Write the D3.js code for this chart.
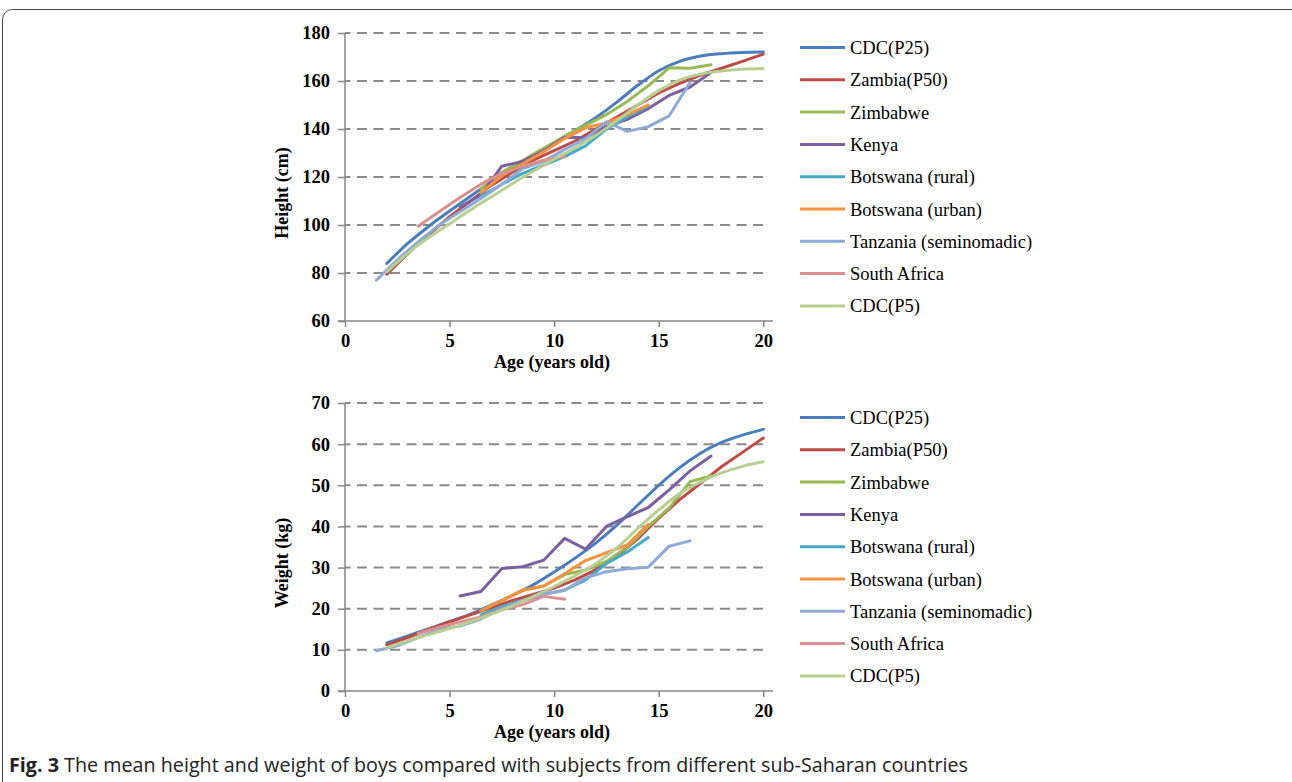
<!DOCTYPE html>
<html>
<head>
<meta charset="utf-8">
<script src="https://cdn.jsdelivr.net/npm/d3@7"></script>
<style>
  body { margin: 0; background: #fff; }
  svg { display: block; }
</style>
</head>
<body>
<div id="chart-area"></div>
<script>
// Series names + colours (Excel default palette)
var seriesNames = ["CDC(P25)", "Zambia(P50)", "Zimbabwe", "Kenya", "Botswana (rural)",
  "Botswana (urban)", "Tanzania (seminomadic)", "South Africa", "CDC(P5)"];
var seriesColors = ["#4a7ebb", "#be4b48", "#98b954", "#7d60a0", "#46aac5",
  "#f69240", "#8eaad5", "#d9908e", "#b9cf92"];

// Ages (x values)
var agesYear = [2, 3, 4, 5, 6, 7, 8, 9, 10, 11, 12, 13, 14, 15, 16, 17, 18, 19, 20];
var agesKenya = [5.5, 6.5, 7.5, 8.5, 9.5, 10.5, 11.5, 12.5, 13.5, 14.5, 15.5, 16.5, 17.5];
var agesZimbabwe = [6.5, 7.5, 8.5, 9.5, 10.5, 11.5, 12.5, 13.5, 14.5, 15.5, 16.5, 17.5];
var agesBotswana = [6.5, 7.5, 8.5, 9.5, 10.5, 11.5, 12.5, 13.5, 14.5];
var agesTanzania = [1.5, 2.5, 3.5, 4.5, 5.5, 6.5, 7.5, 8.5, 9.5, 10.5, 11.5, 12.5, 13.5, 14.5, 15.5, 16.5];
var agesSouthAfrica = [3.5, 4.5, 5.5, 6.5, 7.5, 8.5, 9.5, 10.5];

// Height (cm)
var hCdcP25 = [84, 92.3, 99.4, 105.8, 112, 118, 123.6, 129, 134.2, 139.3, 144.8, 151.2, 158.2, 164.3, 168.2, 170.4, 171.4, 171.9, 172.1];
var hZambia = [79.5, 88, 96, 103.5, 110, 116.5, 122, 127, 131, 135, 140, 145, 150, 155, 159, 162.5, 165.3, 168.2, 171.2];
var hZimbabwe = [115, 122, 127, 132, 137, 141.5, 146, 151.5, 158, 165.5, 165.3, 166.8];
var hKenya = [107.5, 112.5, 124.5, 126.5, 131, 136.5, 136.5, 141, 144, 148.5, 154, 157.5, 163.5];
var hBotswanaRural = [112, 117, 121.5, 125, 128.5, 133, 140, 145, 149.5];
var hBotswanaUrban = [113.5, 120.5, 125.5, 130.5, 136, 140.5, 142.5, 146, 150];
var hTanzania = [77, 85.5, 93, 100, 105.5, 111, 117, 123.5, 126.5, 131.5, 136, 143, 139, 141, 145.5, 159.5];
var hSouthAfrica = [99.5, 105.5, 111.5, 117, 121.5, 124.5, 127, 128.5];
var hCdcP5 = [80.5, 88.2, 94.8, 100.5, 106.3, 111.8, 117.2, 122.4, 127.4, 132.2, 137.4, 143.5, 150, 156, 160.4, 162.9, 164.2, 164.9, 165.2];

// Weight (kg)
var wCdcP25 = [11.7, 13.4, 15.1, 16.9, 18.7, 20.9, 23.2, 25.8, 28.9, 32.3, 36, 40.3, 45.2, 50, 54.3, 57.8, 60.4, 62.2, 63.6];
var wZambia = [11.2, 13, 15, 16.8, 18.5, 20.3, 22, 23.5, 25, 27, 29.5, 32.8, 37, 42, 46.5, 50.5, 54.5, 58, 61.5];
var wZimbabwe = [19.5, 22, 24.5, 25.5, 28.3, 29.4, 31.5, 35, 40, 44.5, 50.9, 52.3];
var wKenya = [23.1, 24.2, 29.8, 30.2, 31.8, 37.1, 34.5, 40, 42.4, 44.6, 48.9, 53.5, 57.1];
var wBotswanaRural = [18.5, 20.5, 22, 23.5, 24.5, 27, 31, 33.8, 37.3];
var wBotswanaUrban = [19.5, 22, 24.5, 25.5, 28.5, 31.7, 33.6, 35.5, 40.5];
var wTanzania = [9.8, 11, 13, 15, 15.8, 17.5, 20, 22, 23.5, 24.5, 27.5, 29, 29.7, 30.1, 35.2, 36.5];
var wSouthAfrica = [14, 15.5, 16.8, 18, 19.8, 21, 23, 22.3];
var wCdcP5 = [10.5, 12.2, 13.7, 15.2, 16.9, 18.7, 20.7, 23, 25.4, 28, 31, 34.8, 39.5, 44, 48, 50.8, 53, 54.6, 55.7];

var agesList = [agesYear, agesYear, agesZimbabwe, agesKenya, agesBotswana, agesBotswana, agesTanzania, agesSouthAfrica, agesYear];
var heightList = [hCdcP25, hZambia, hZimbabwe, hKenya, hBotswanaRural, hBotswanaUrban, hTanzania, hSouthAfrica, hCdcP5];
var weightList = [wCdcP25, wZambia, wZimbabwe, wKenya, wBotswanaRural, wBotswanaUrban, wTanzania, wSouthAfrica, wCdcP5];

var heightTicks = [60, 80, 100, 120, 140, 160, 180];
var weightTicks = [0, 10, 20, 30, 40, 50, 60, 70];
var ageTicks = [0, 5, 10, 15, 20];

var svg = d3.select("#chart-area")
  .append("svg")
    .attr("width", 1292)
    .attr("height", 782);

// frame around the figure
svg.append("rect")
  .attr("x", 2.5).attr("y", 9.5)
  .attr("width", 1300).attr("height", 800)
  .attr("rx", 10)
  .attr("fill", "none")
  .attr("stroke", "#444")
  .attr("stroke-width", 1);

var axisColor = "#868686";
var serif = "'Liberation Serif', 'Times New Roman', serif";

function drawPanel(top, bottom, yDomain, yTicks, yTitle, values) {
  var x = d3.scaleLinear().domain([0, 20]).range([345, 763.3]);
  var y = d3.scaleLinear().domain(yDomain).range([bottom, top]);

  var g = svg.append("g");

  // dashed gridlines
  g.selectAll(".grid")
    .data(yTicks.slice(1))
    .enter().append("line")
      .attr("x1", 345).attr("x2", 768)
      .attr("y1", function(d){ return y(d); })
      .attr("y2", function(d){ return y(d); })
      .attr("stroke", "#8a8a8a")
      .attr("stroke-width", 2)
      .attr("stroke-dasharray", "10,6.5")
      .attr("stroke-dashoffset", -12);

  // y axis
  var yAxis = g.append("g")
    .attr("transform", "translate(345,0)")
    .call(d3.axisLeft(y).tickValues(yTicks).tickSize(7).tickSizeOuter(0).tickPadding(8));
  // x axis
  var xAxis = g.append("g")
    .attr("transform", "translate(0," + bottom + ")")
    .call(d3.axisBottom(x).tickValues(ageTicks).tickSize(6).tickSizeOuter(0).tickPadding(7));

  [yAxis, xAxis].forEach(function(a){
    a.select(".domain").remove();
    a.selectAll("line").attr("stroke", axisColor).attr("stroke-width", 1.5);
    a.selectAll("text")
      .attr("fill", "#000")
      .style("font-family", serif)
      .style("font-weight", "bold")
      .style("font-size", "18.5px");
  });
  g.append("line")
    .attr("x1", 345).attr("x2", 345)
    .attr("y1", top).attr("y2", bottom)
    .attr("stroke", axisColor).attr("stroke-width", 1.5);
  g.append("line")
    .attr("x1", 338).attr("x2", 773)
    .attr("y1", bottom).attr("y2", bottom)
    .attr("stroke", axisColor).attr("stroke-width", 1.5);

  // axis titles
  g.append("text")
    .attr("transform", "translate(288," + (top + 160) + ") rotate(-90)")
    .attr("text-anchor", "middle")
    .style("font-family", serif).style("font-weight", "bold").style("font-size", "18px")
    .text(yTitle);
  g.append("text")
    .attr("x", 552).attr("y", bottom + 47)
    .attr("text-anchor", "middle")
    .style("font-family", serif).style("font-weight", "bold").style("font-size", "18px")
    .text("Age (years old)");

  // series lines
  values.forEach(function(vals, i){
    var pts = agesList[i].map(function(a, j){ return [a, vals[j]]; });
    var smooth = (i === 0 || i === 8);
    var line = d3.line()
      .x(function(d){ return x(d[0]); })
      .y(function(d){ return y(d[1]); })
      .curve(smooth ? d3.curveMonotoneX : d3.curveLinear);
    g.append("path")
      .datum(pts)
      .attr("d", line)
      .attr("fill", "none")
      .attr("stroke", seriesColors[i])
      .attr("stroke-width", 3)
      .attr("stroke-linejoin", "round")
      .attr("stroke-linecap", "round");
  });

  // legend
  var leg = g.selectAll(".leg")
    .data(seriesNames)
    .enter().append("g")
      .attr("transform", function(d, i){ return "translate(800," + (top + 14.5 + i * 32.3) + ")"; });
  leg.append("line")
    .attr("x1", 0).attr("x2", 45)
    .attr("stroke", function(d, i){ return seriesColors[i]; })
    .attr("stroke-width", 3);
  leg.append("text")
    .attr("x", 50).attr("y", 6.5)
    .style("font-family", serif).style("font-size", "18.5px")
    .text(function(d){ return d; });
}

drawPanel(33, 321, [60, 180], heightTicks, "Height (cm)", heightList);
drawPanel(403, 691, [0, 70], weightTicks, "Weight (kg)", weightList);

// caption
var cap = svg.append("text")
  .attr("x", 9).attr("y", 772)
  .style("font-family", "'Open Sans', 'Noto Sans', sans-serif")
  .style("font-size", "19.5px")
  .attr("fill", "#222")
  .attr("textLength", 959)
  .attr("lengthAdjust", "spacingAndGlyphs");
cap.append("tspan").style("font-weight", "bold").text("Fig. 3");
cap.append("tspan").text(" The mean height and weight of boys compared with subjects from different sub-Saharan countries");
</script>
</body>
</html>
